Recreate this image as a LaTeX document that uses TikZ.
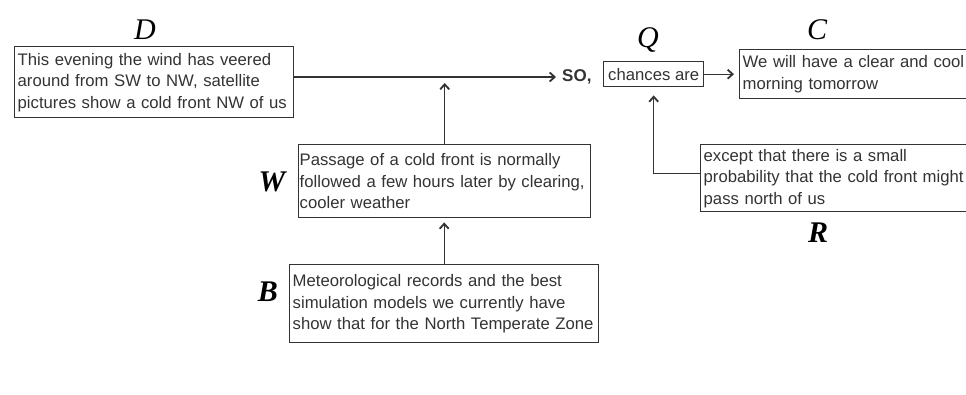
\documentclass[tikz,border=0pt]{standalone}
\usepackage{fontspec}
\setmainfont{Liberation Sans}
\newfontfamily\lblfont{Liberation Serif}
\usetikzlibrary{positioning,calc,arrows.meta}
\definecolor{inkgray}{HTML}{333333}
\hyphenpenalty=10000
\exhyphenpenalty=10000

\tikzset{
  argbox/.style={draw=inkgray, line width=1.4pt, anchor=north west, align=left,
    inner xsep=3pt, inner ysep=1pt, text=inkgray, font=\fontsize{16.7}{21.5}\selectfont},
  lbl/.style={font=\lblfont\itshape\fontsize{30}{30}\selectfont},
  link/.style={draw=inkgray, line width=1.4pt, -{Straight Barb[length=5pt,width=9pt,line width=1.8pt]}}
}

\begin{document}
\begin{tikzpicture}[x=1pt, y=-1pt]
            \useasboundingbox (0,0) rectangle (966,394);
            \clip (0,0) rectangle (966,394);

            % Data
            \node[argbox, text width=273pt, minimum height=71pt] (data) at (14,46)
                {This evening the wind has veered\\around from SW to NW, satellite\\pictures show a cold front NW of us};
            \node[lbl] (dlbl) at (145,30) {D};

            % Qualifier and claim
            \node[text=inkgray, anchor=west, inner sep=2pt, font=\bfseries\fontsize{17}{17}\selectfont] (so) at (560,77) {SO,};
            \node[argbox, align=center, inner xsep=4pt, minimum width=100pt, minimum height=25pt] (qual) at (603,61) {chances are};
            \node[lbl] (qlbl) at (648,40) {Q};
            \node[argbox, text width=294pt, minimum height=49pt] (concl) at (739,49)
                {We will have a clear and cool\\morning tomorrow};
            \node[lbl] (clbl) at (817,30) {C};
            \draw[link, shorten >=4pt] (data.east |- so.west) -- (so.west);
            \draw[link, shorten >=5pt] (qual) -- (concl);

            % Warrant
            \node[argbox, inner xsep=1pt, text width=290pt, minimum height=73pt] (warrant) at (298,144)
                {Passage of a cold front is normally\\followed a few hours later by clearing,\\cooler weather};
            \node[lbl, font=\lblfont\bfseries\itshape\fontsize{30}{30}\selectfont] (wlbl) at (272,182) {W};
            \coordinate (wjoin) at (warrant.north |- so.west);
            \draw[link, shorten >=6pt] (warrant.north) -- (wjoin);

            % Backing
            \node[argbox, text width=303pt, minimum height=78pt] (backing) at (289,264)
                {Meteorological records and the best\\simulation models we currently have\\show that for the North Temperate Zone};
            \node[lbl, font=\lblfont\bfseries\itshape\fontsize{30}{30}\selectfont] (blbl) at (268,292) {B};
            \draw[link, shorten >=4pt] (backing.north) -- (backing.north |- warrant.south);

            % Rebuttal
            \node[argbox, text width=294pt, minimum height=67pt] (rebut) at (700,144)
                {except that there is a small\\probability that the cold front might\\pass north of us};
            \node[lbl, font=\lblfont\bfseries\itshape\fontsize{30}{30}\selectfont] (rlbl) at (818,233) {R};
            \draw[link, shorten >=8pt] ([yshift=5pt]rebut.west) -| (qual.south);
\end{tikzpicture}
\end{document}
